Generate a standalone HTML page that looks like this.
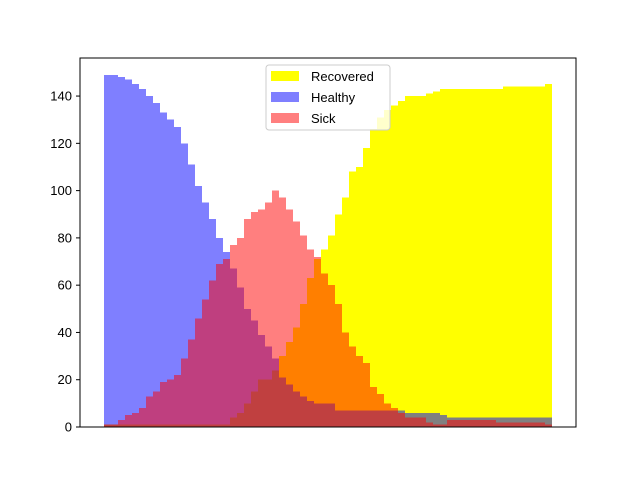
<!DOCTYPE html>
<html><head><meta charset="utf-8"><style>
body{margin:0;background:#fff;}
svg{display:block;font-family:"Liberation Sans","DejaVu Sans",sans-serif;}
</style></head><body>
<svg id="chart" width="640" height="480" viewBox="0 0 640 480" xmlns="http://www.w3.org/2000/svg">
<rect x="0" y="0" width="640" height="480" fill="#fff"/>
<g id="bars"></g>
<g id="yaxis"></g>
<rect x="80" y="58" width="496" height="369" fill="none" stroke="#000" stroke-width="1"/>
<g>
<rect x="266" y="65" width="124" height="65" rx="3" fill="#fff" fill-opacity="0.8" stroke="#ccc"/>
<g><rect x="271" y="71" width="28" height="10" fill="#ffff00"/><text x="311" y="81" font-size="13">Recovered</text></g>
<g><rect x="271" y="92" width="28" height="10" fill="#0000ff" fill-opacity="0.5"/><text x="311" y="102" font-size="13">Healthy</text></g>
<g><rect x="271" y="113" width="28" height="10" fill="#ff0000" fill-opacity="0.5"/><text x="311" y="123" font-size="13">Sick</text></g>
</g>
</svg>
<script>
const recovered = [0,0,0,0,0,0,0,0, 0,0,0,0,0,0,0,0, 0,0,0,0,0,0,5,15, 24,30,36,42,52,63,71,75, 81,90,97,108,110,118,126,131, 134,136,138,140,140,140,141,142, 143,143,143,143,143,143,143,143, 143,144,144,144,144,144,144,145];
const dead = [1,1,1,1,1,1,1,1, 1,1,1,1,1,1,1,1, 1,1,4,6,10,15,20,20, 23,21,18,15,13,11,10,10, 10,7,7,7,7,7,7,7, 7,7,7,6,6,6,6,6, 5,4,4,4,4,4,4,4, 4,4,4,4,4,4,4,4];
const healthy = [149,149,148,147,145,143,140,137, 133,130,127,120,111,102,95,88, 80,74,67,59,50,45,39,34, 29,20,14,9,5,2,1,0, 0,0,0,0,0,0,0,0, 0,0,0,0,0,0,0,0, 0,0,0,0,0,0,0,0, 0,0,0,0,0,0,0,0];
const sick = [1,1,3,5,6,8,13,15, 19,20,22,29,37,46,54,62, 69,71,77,80,88,91,92,95, 100,97,92,87,81,75,72,65, 60,52,40,34,30,27,17,14, 10,8,6,4,4,4,2,1, 1,3,3,3,3,3,3,3, 2,2,2,2,2,2,2,1];
const yTicks = [0,20,40,60,80,100,120,140];

const NS = "http://www.w3.org/2000/svg";
const x0 = 104, x1 = 552;
const n = recovered.length;
const step = (x1 - x0) / n;
function xPos(i){ return x0 + i * step; }
function yPos(v){ return 427 - v * (369 / 156.1); }

const bars = document.getElementById('bars');
function drawSeries(arr, color, op, name){
  const g = document.createElementNS(NS,'g');
  
  
  g.setAttribute('fill', color);
  g.setAttribute('fill-opacity', op);
  arr.forEach((v,i)=>{
    if(v<=0) return;
    const r = document.createElementNS(NS,'rect');
    const yt = yPos(v);
    r.setAttribute('x', xPos(i));
    r.setAttribute('y', yt);
    r.setAttribute('width', step);
    r.setAttribute('height', 427 - yt);
    r.setAttribute('shape-rendering', 'crispEdges');
    
    
    g.appendChild(r);
  });
  bars.appendChild(g);
}
drawSeries(recovered, '#ffff00', 1, 'recovered');
drawSeries(healthy, '#0000ff', 0.5, 'healthy');
drawSeries(dead, '#808080', 1, 'dead');
drawSeries(sick, '#ff0000', 0.5, 'sick');

const ya = document.getElementById('yaxis');
yTicks.forEach(t=>{
  const y = yPos(t);
  const l = document.createElementNS(NS,'line');
  l.setAttribute('x1',76); l.setAttribute('x2',80);
  l.setAttribute('y1',y); l.setAttribute('y2',y);
  l.setAttribute('stroke','#000');
  
  
  ya.appendChild(l);
  const tx = document.createElementNS(NS,'text');
  tx.setAttribute('x',72); tx.setAttribute('y',y+4.5);
  tx.setAttribute('text-anchor','end'); tx.setAttribute('font-size','13');
  tx.textContent = t;
  
  
  ya.appendChild(tx);
});
</script>
</body></html>
